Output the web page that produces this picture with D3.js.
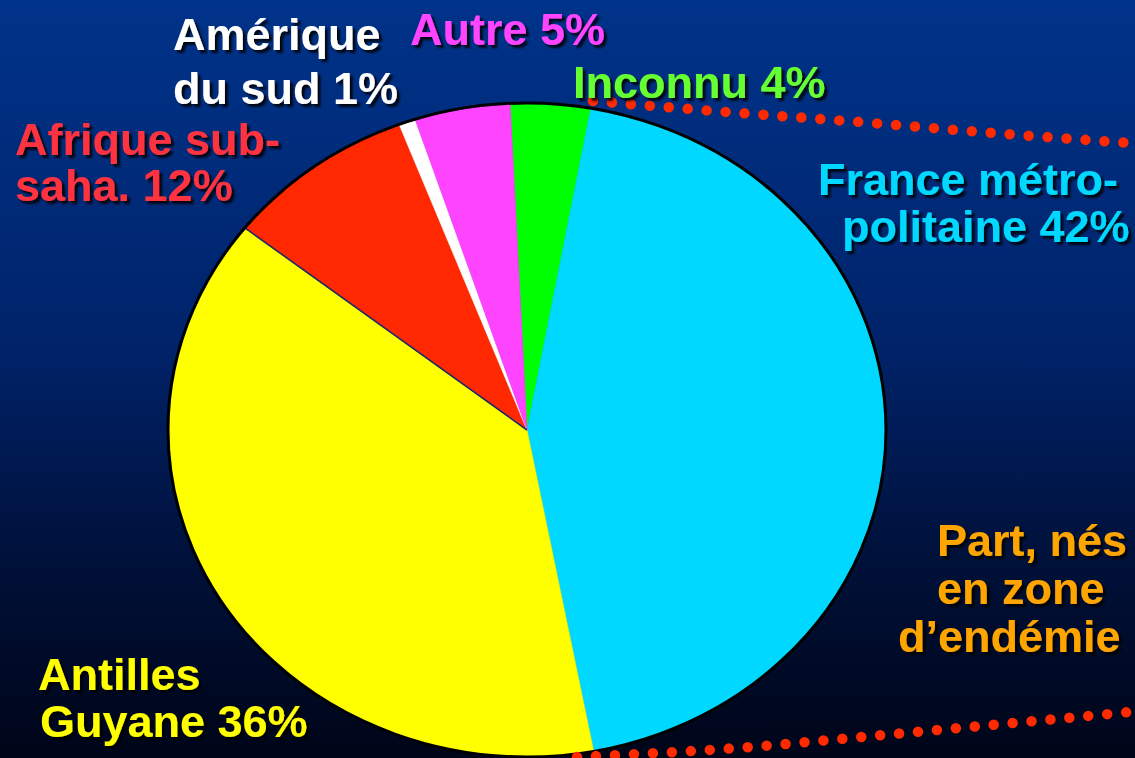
<!DOCTYPE html>
<html>
<head>
<meta charset="utf-8">
<script src="https://cdn.jsdelivr.net/npm/d3@7"></script>
<style>
  html, body { margin: 0; padding: 0; background: #000; }
  svg { display: block; }
  text { font-family: "Liberation Sans", Arial, sans-serif; font-weight: bold; font-size: 45px; }
</style>
</head>
<body>
<script>

// slices, clockwise from the top, as drawn
let regions = ["Inconnu", "France métropolitaine", "Antilles Guyane", "Afrique sub-saharienne", "Amérique du sud", "Autre"]
let sliceShares = [3.6, 44.2, 38.6, 8.6, 0.75, 4.3]
let labelPct = [4, 42, 36, 12, 1, 5]
let labelLines = [
  ["Inconnu"],
  ["France métro-", "politaine"],
  ["Antilles", "Guyane"],
  ["Afrique sub-", "saha."],
  ["Amérique", "du sud"],
  ["Autre"]
]
let noteLines = ["Part, nés", "en zone", "d’endémie"]

let sliceColors = ["#00ff00", "#00d8ff", "#ffff00", "#ff2800", "#ffffff", "#ff44ff"]
let labelColors = ["#66ff33", "#00d8ff", "#ffff00", "#ff3340", "#ffffff", "#ff44ff"]

// label layout: left x per line, first baseline, line gap
let labelPos = [
  {x: [573], y: 98, gap: 0},
  {x: [818, 842], y: 195, gap: 47},
  {x: [38, 40], y: 690, gap: 47},
  {x: [15, 15], y: 155, gap: 46},
  {x: [173, 173], y: 50, gap: 54},
  {x: [410], y: 45, gap: 0}
]
let notePos = {x: [937, 937, 898], y: 556, gap: 48}

// dotted guides toward the note
let topGuide = [[593, 101], [727, 112], [860, 122], [993, 133], [1130, 143]]
let bottomGuide = [[577, 757], [737, 748], [882, 735], [1130, 712]]

let width = 1135, height = 758
let cx = 527, cy = 430, rx = 359, ry = 327
let startDeg = -2.7

let svg = d3.select("body").append("svg")
            .attr("width", width)
            .attr("height", height)

let defs = svg.append("defs")

let grad = defs.append("linearGradient")
               .attr("id", "bg")
               .attr("x1", 0).attr("y1", 0)
               .attr("x2", 0).attr("y2", 1)
grad.append("stop").attr("offset", "0%").attr("stop-color", "#00338a")
grad.append("stop").attr("offset", "45%").attr("stop-color", "#00236a")
grad.append("stop").attr("offset", "75%").attr("stop-color", "#001038")
grad.append("stop").attr("offset", "100%").attr("stop-color", "#000518")

let shadow = defs.append("filter")
                 .attr("id", "shadow")
                 .attr("x", "-10%").attr("y", "-10%")
                 .attr("width", "130%").attr("height", "130%")
shadow.append("feDropShadow")
      .attr("dx", 3).attr("dy", 3)
      .attr("stdDeviation", 1)
      .attr("flood-color", "#000")
      .attr("flood-opacity", 0.85)

svg.append("rect")
   .attr("width", width)
   .attr("height", height)
   .attr("fill", "url(#bg)")

// pie, drawn round then squashed into the ellipse
let pie = d3.pie()
            .sort(null)
            .startAngle(startDeg * Math.PI / 180)
            .endAngle(startDeg * Math.PI / 180 + 2 * Math.PI)
            .value(function(d) { return d })

let arcs = pie(sliceShares)
let arc = d3.arc().innerRadius(0).outerRadius(ry)

let pieGroup = svg.append("g")
                  .attr("transform", "translate(" + cx + "," + cy + ") scale(" + (rx / ry) + ",1)")

pieGroup.selectAll(".slice")
        .data(arcs)
        .enter()
        .append("path")
        .attr("class", "slice")
        .attr("d", arc)
        .attr("fill", function(d, i) { return sliceColors[i] })
        .attr("stroke", function(d, i) { return sliceColors[i] })
        .attr("stroke-width", 0.6)
        .attr("vector-effect", "non-scaling-stroke")

// thin dark seam between Antilles and Afrique
let seam = arcs[2].endAngle
pieGroup.append("line")
        .attr("x1", 0).attr("y1", 0)
        .attr("x2", Math.sin(seam) * ry)
        .attr("y2", -Math.cos(seam) * ry)
        .attr("stroke", "#1a2a6a")
        .attr("stroke-width", 1.6)
        .attr("vector-effect", "non-scaling-stroke")

svg.append("ellipse")
   .attr("cx", cx).attr("cy", cy)
   .attr("rx", rx).attr("ry", ry)
   .attr("fill", "none")
   .attr("stroke", "#000")
   .attr("stroke-width", 3)

// dotted guides
let guide = d3.line().curve(d3.curveMonotoneX)

svg.selectAll(".guide")
   .data([topGuide, bottomGuide])
   .enter()
   .append("path")
   .attr("class", "guide")
   .attr("d", guide)
   .attr("fill", "none")
   .attr("stroke", "#ff2a00")
   .attr("stroke-width", 10.5)
   .attr("stroke-linecap", "round")
   .attr("stroke-dasharray", "0 19")

// labels
let labels = svg.selectAll(".label")
                .data(regions)
                .enter()
                .append("text")
                .attr("class", "label")
                .attr("fill", function(d, i) { return labelColors[i] })
                .attr("filter", "url(#shadow)")

labels.each(function(d, i) {

  let lines = labelLines[i].slice()
  let last = lines.length - 1
  lines[last] = lines[last] + " " + labelPct[i] + "%"

  let pos = labelPos[i]

  d3.select(this).selectAll("tspan")
    .data(lines)
    .enter()
    .append("tspan")
    .attr("x", function(l, j) { return pos.x[j] })
    .attr("y", function(l, j) { return pos.y + j * pos.gap })
    .text(function(l) { return l })

})

svg.append("text")
   .attr("fill", "#ffa500")
   .attr("filter", "url(#shadow)")
   .selectAll("tspan")
   .data(noteLines)
   .enter()
   .append("tspan")
   .attr("x", function(l, j) { return notePos.x[j] })
   .attr("y", function(l, j) { return notePos.y + j * notePos.gap })
   .text(function(l) { return l })

</script>
</body>
</html>
